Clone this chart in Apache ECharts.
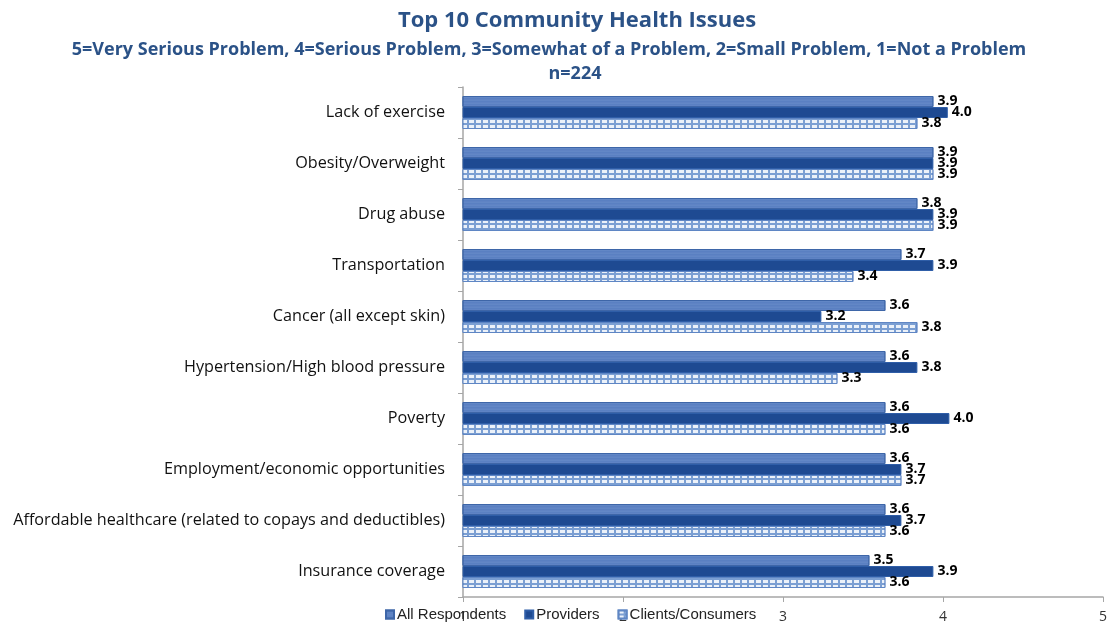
<!DOCTYPE html>
<html>
<head>
<meta charset="utf-8">
<script src="https://cdn.jsdelivr.net/npm/echarts@6/dist/echarts.min.js"></script>
<style>
html,body{margin:0;padding:0;background:#fff;}
#c{width:1110px;height:624px;}
</style>
</head>
<body>
<div id="c"></div>
<script>
const categories = [
  "Lack of exercise",
  "Obesity/Overweight",
  "Drug abuse",
  "Transportation",
  "Cancer (all except skin)",
  "Hypertension/High blood pressure",
  "Poverty",
  "Employment/economic opportunities",
  "Affordable healthcare (related to copays and deductibles)",
  "Insurance coverage"
];
const allRespondents = [3.94, 3.94, 3.84, 3.74, 3.64, 3.64, 3.64, 3.64, 3.64, 3.54];
const providers      = [4.03, 3.94, 3.94, 3.94, 3.24, 3.84, 4.04, 3.74, 3.74, 3.94];
const clients        = [3.84, 3.94, 3.94, 3.44, 3.84, 3.34, 3.64, 3.74, 3.64, 3.64];
const seriesNames = ["All Respondents", "Providers", "Clients/Consumers"];
const xTicks = [1, 2, 3, 4, 5];

const chart = echarts.init(document.getElementById('c'));
const fontFam = '"Open Sans", Lato, sans-serif';
const labelCfg = {
  show: true,
  position: 'right',
  distance: 4,
  color: '#000',
  fontFamily: fontFam,
  fontWeight: 'bold',
  fontSize: 14,
  formatter: p => p.value.toFixed(1)
};
chart.setOption({
  backgroundColor: '#fff',
  animation: false,
  title: [
    {text: 'Top 10 Community Health Issues', left: 572, top: 5, textAlign: 'center',
     textStyle: {fontFamily: fontFam, fontWeight: 'bold', fontSize: 22, color: '#2b5287'}},
    {text: '5=Very Serious Problem, 4=Serious Problem, 3=Somewhat of a Problem, 2=Small Problem, 1=Not a Problem',
     left: 544, top: 36, textAlign: 'center',
     textStyle: {fontFamily: fontFam, fontWeight: 'bold', fontSize: 18, color: '#2b5287'}},
    {text: 'n=224', left: 570, top: 60, textAlign: 'center',
     textStyle: {fontFamily: fontFam, fontWeight: 'bold', fontSize: 18, color: '#2b5287'}}
  ],
  legend: {
    data: seriesNames,
    left: 380, top: 602,
    itemWidth: 8, itemHeight: 8, itemGap: 18,
    icon: 'rect',
    textStyle: {fontFamily: '"Liberation Sans Narrow", "Liberation Sans", sans-serif', fontSize: 15, color: '#222', padding: [0,0,0,-2]}
  },
  grid: {left: 463, right: 5, top: 87, bottom: 27, containLabel: false},
  xAxis: {
    type: 'value', min: xTicks[0], max: xTicks[xTicks.length-1], interval: 1,
    axisLine: {show: true, lineStyle: {color: '#a6a6a6', width: 1.5}},
    axisTick: {show: true, length: 5, lineStyle: {color: '#a6a6a6'}},
    splitLine: {show: false},
    axisLabel: {fontFamily: fontFam, fontSize: 14, color: '#333', margin: 13}
  },
  yAxis: {
    type: 'category', data: categories, inverse: true,
    axisLine: {show: true, lineStyle: {color: '#a6a6a6', width: 1.5}},
    axisTick: {show: true, length: 5, lineStyle: {color: '#a6a6a6'}},
    axisLabel: {fontFamily: fontFam, fontSize: 16.2, color: '#111', margin: 18}
  },
  series: [
    {
      name: seriesNames[0], type: 'bar', data: allRespondents,
      barWidth: 11, barGap: '0%',
      itemStyle: {
        color: '#5a80c2', borderColor: '#3e66a8', borderWidth: 1,
        decal: {symbol: 'circle', symbolSize: 0.6, dashArrayX: [1, 0], dashArrayY: [2, 1], color: 'rgba(200,215,240,0.55)'}
      },
      label: labelCfg
    },
    {
      name: seriesNames[1], type: 'bar', data: providers,
      barWidth: 11, barGap: '0%',
      itemStyle: {color: '#1e4a92', borderColor: '#2f5ea8', borderWidth: 1},
      label: labelCfg
    },
    {
      name: seriesNames[2], type: 'bar', data: clients,
      barWidth: 11, barGap: '0%',
      itemStyle: {
        color: '#7b9fd3', borderColor: '#5f86c4', borderWidth: 1,
        decal: {symbol: 'rect', symbolSize: 1, dashArrayX: [[5, 2]], dashArrayY: [3, 2], rotation: 0, color: 'rgba(255,255,255,0.85)'}
      },
      label: labelCfg
    }
  ]
});
</script>
</body>
</html>
